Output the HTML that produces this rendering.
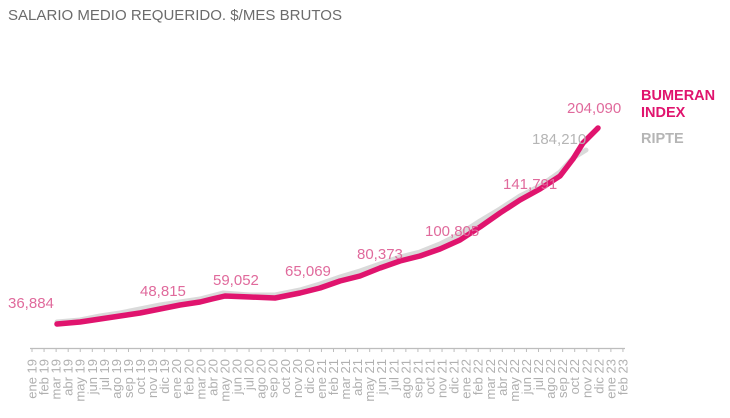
<!DOCTYPE html>
<html><head><meta charset="utf-8"><style>
html,body{margin:0;padding:0;background:#fff;width:730px;height:418px;overflow:hidden}
svg{display:block}
</style></head><body>
<svg width="730" height="418" viewBox="0 0 730 418" xmlns="http://www.w3.org/2000/svg" font-family="Liberation Sans, sans-serif">
<text x="8" y="20" font-size="15" fill="#6b6b6b" textLength="334" lengthAdjust="spacingAndGlyphs">SALARIO MEDIO REQUERIDO. $/MES BRUTOS</text>
<line x1="30" y1="348.5" x2="625" y2="348.5" stroke="#bdbdbd" stroke-width="1.2"/>
<g id="tk"></g>
<g id="lbl" font-size="13" fill="#b0b0b0"></g>
<polyline fill="none" stroke="#dadada" stroke-width="5" stroke-linejoin="round" stroke-linecap="round"
points="57,322 80,320 100,316 120,313 140,309 160,305 200,299 223,293 250,295 275,295 300,290 320,284 340,277 360,271 380,264 400,257 420,252 440,244 460,234 480,221 500,209 520,196 540,186 560,172 573,158 586,150"/>
<polyline fill="none" stroke="#e0146e" stroke-width="5.5" stroke-linejoin="round" stroke-linecap="round"
points="57,324 80,322 100,319 120,316 140,313 160,309 180,305 200,302 212,299 225,296 250,297 275,298 300,293 320,288 340,281 360,276 380,268 400,261 420,256 440,249 460,240 480,227 500,213 520,200 540,189 560,176 573,159 583,143 598,128"/>
<g font-size="15" fill="#e06a9c">
<text x="8" y="308">36,884</text>
<text x="140" y="296">48,815</text>
<text x="213" y="285">59,052</text>
<text x="285" y="276">65,069</text>
<text x="357" y="259">80,373</text>
<text x="425" y="236">100,805</text>
<text x="503" y="189">141,791</text>
<text x="567" y="113">204,090</text>
</g>
<text x="532" y="144" font-size="15" fill="#b5b5b5">184,210</text>
<g font-size="14.5" font-weight="bold">
<text x="641" y="100" fill="#e0146e">BUMERAN</text>
<text x="641" y="117" fill="#e0146e">INDEX</text>
<text x="641" y="143" fill="#b5b5b5">RIPTE</text>
</g>
</svg>
<script>
var m=["ene","feb","mar","abr","may","jun","jul","ago","sep","oct","nov","dic"];
var tk=document.getElementById("tk"),lb=document.getElementById("lbl"),ns="http://www.w3.org/2000/svg";
for(var i=0;i<50;i++){var x=32+i*12.06;
var l=document.createElementNS(ns,"line");l.setAttribute("x1",x);l.setAttribute("x2",x);l.setAttribute("y1",348.5);l.setAttribute("y2",352);l.setAttribute("stroke","#bdbdbd");tk.appendChild(l);
var t=document.createElementNS(ns,"text");var yr=19+Math.floor(i/12);
t.textContent=m[i%12]+" "+yr;t.setAttribute("text-anchor","end");
t.setAttribute("transform","translate("+(x+4.5)+",359) rotate(-90)");lb.appendChild(t);}
</script>
</body></html>
